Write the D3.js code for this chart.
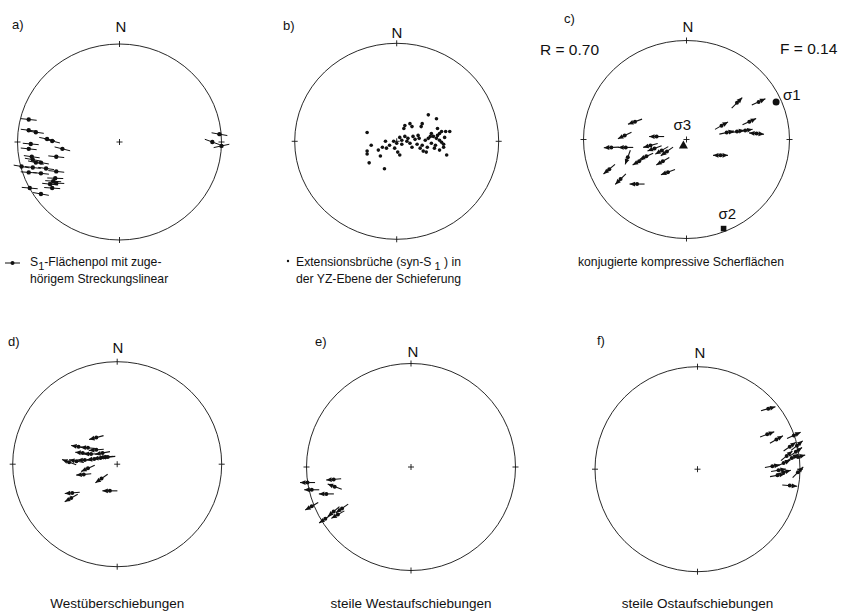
<!DOCTYPE html>
<html><head><meta charset="utf-8">
<script src="https://cdn.jsdelivr.net/npm/d3@7/dist/d3.min.js"></script>
<style>
html,body{margin:0;padding:0;background:#fff;}
svg{display:block;font-family:"Liberation Sans",Arial,Helvetica,sans-serif;}
</style></head><body>
<svg id="chart" width="859" height="614"></svg>
<script>
// Net coordinates: east, north in units of the primitive circle radius.

// a) S1 poles with stretching lineation [east, north, lineation trend°]
const s1Poles = [
  [-0.89, 0.23, 96], [-0.89, 0.12, 97], [-0.82, 0.10, 98], [-0.71, 0.03, 102],
  [-0.66, 0.01, 104], [-0.56, -0.07, 104], [-0.87, -0.02, 95], [-0.89, -0.07, 96],
  [-0.86, -0.15, 98], [-0.85, -0.18, 100], [-0.82, -0.21, 102], [-0.77, -0.21, 100],
  [-0.62, -0.15, 96], [-0.96, -0.25, 100], [-0.85, -0.26, 97], [-0.72, -0.27, 98],
  [-0.62, -0.30, 96], [-0.89, -0.31, 94], [-0.77, -0.32, 96], [-0.63, -0.37, 92],
  [-0.65, -0.40, 94], [-0.68, -0.43, 96], [-0.62, -0.42, 92], [-0.66, -0.47, 94],
  [-0.88, -0.47, 95], [-0.77, -0.53, 100],
  [0.98, 0.08, 100], [0.91, 0.00, 110], [1.00, -0.04, 78]
];

// b) extension fractures (syn-S1) [east, north]
const extensionFractures = [
  [-0.29, 0.09], [-0.25, -0.04], [-0.29, -0.10], [-0.29, -0.13], [-0.27, -0.22],
  [-0.12, -0.28], [-0.18, -0.09], [-0.16, -0.15], [-0.14, -0.06], [-0.11, 0.00],
  [-0.10, -0.07], [-0.03, 0.00], [-0.02, -0.07], [0.01, -0.11], [0.03, -0.14],
  [0.03, 0.04], [0.05, 0.01], [0.08, 0.05], [0.07, 0.13], [0.08, 0.16],
  [0.13, 0.18], [0.15, 0.15], [0.11, 0.03], [0.16, 0.05], [0.21, 0.06],
  [0.24, 0.15], [0.25, 0.18], [0.20, -0.03], [0.23, -0.07], [0.28, 0.01],
  [0.31, 0.03], [0.31, 0.27], [0.39, 0.23], [0.34, 0.08], [0.34, -0.02],
  [0.37, -0.07], [0.40, 0.13], [0.42, 0.08], [0.44, 0.10], [0.48, 0.10],
  [0.52, 0.10], [0.42, 0.01], [0.39, 0.03], [0.38, -0.04], [0.46, -0.03],
  [0.46, -0.06], [0.42, -0.09], [0.29, -0.11], [0.33, 0.05], [0.25, -0.04],
  [0.49, -0.14], [0.15, -0.06], [0.10, 0.00], [-0.07, -0.04], [0.00, -0.02],
  [0.26, -0.10], [0.18, 0.02], [0.22, 0.03], [0.36, 0.05], [0.40, 0.06],
  [0.30, -0.06], [0.44, -0.01], [0.47, 0.04], [0.13, -0.02], [0.05, -0.03]
];

// c) conjugate compressive shear planes [east, north, slip azimuth°, double-headed]
const compressiveShears = [
  [0.49, 0.37, 45, 0], [0.70, 0.38, 65, 0], [0.34, 0.14, 60, 0], [0.61, 0.18, 65, 0],
  [0.39, 0.07, 78, 0], [0.49, 0.08, 80, 0], [0.57, 0.09, 80, 0], [0.68, 0.06, 95, 1],
  [0.33, -0.16, 90, 1],
  [-0.50, 0.18, 250, 0], [-0.60, 0.04, 245, 0], [-0.29, 0.03, 270, 0], [-0.73, -0.08, 268, 0],
  [-0.59, -0.08, 270, 0], [-0.35, -0.06, 255, 0], [-0.31, -0.09, 250, 0], [-0.24, -0.11, 240, 0],
  [-0.19, -0.12, 235, 0], [-0.57, -0.18, 200, 0], [-0.46, -0.22, 240, 0], [-0.39, -0.17, 245, 0],
  [-0.23, -0.22, 240, 0], [-0.75, -0.30, 230, 0], [-0.64, -0.40, 225, 0], [-0.18, -0.33, 250, 0],
  [-0.48, -0.45, 270, 0]
];

// c) principal stress axes [label, east, north, marker]
const stressAxes = [
  ["σ1", 0.87, 0.38, "circle"],
  ["σ2", 0.36, -0.90, "square"],
  ["σ3", -0.03, -0.06, "triangle"]
];
const fitLabels = [["R", "0.70"], ["F", "0.14"]];

// d) west-directed thrusts [east, north, slip azimuth°]
const westThrusts = [
  [-0.20, 0.26, 255], [-0.37, 0.17, 280], [-0.28, 0.16, 275], [-0.20, 0.14, 265],
  [-0.33, 0.11, 275], [-0.25, 0.10, 270], [-0.14, 0.11, 260], [-0.11, 0.07, 265],
  [-0.46, 0.02, 290], [-0.39, 0.03, 280], [-0.31, 0.04, 270], [-0.22, 0.05, 265],
  [-0.16, 0.06, 265], [-0.09, 0.07, 265], [-0.28, -0.04, 245], [-0.32, -0.10, 265],
  [-0.15, -0.14, 235], [-0.43, -0.28, 265], [-0.44, -0.33, 240], [-0.07, -0.26, 270]
];

// e) steep west-directed reverse faults
const steepWestThrusts = [
  [-0.99, -0.15, 270], [-0.74, -0.12, 265], [-0.73, -0.19, 290], [-0.95, -0.22, 270],
  [-0.81, -0.26, 270], [-0.95, -0.38, 240], [-0.74, -0.43, 230], [-0.66, -0.40, 235],
  [-0.82, -0.50, 235], [-0.70, -0.46, 240]
];

// f) steep east-directed reverse faults
const steepEastThrusts = [
  [0.69, 0.59, 75], [0.68, 0.34, 70], [0.77, 0.29, 60], [0.94, 0.33, 65],
  [0.97, 0.23, 50], [0.90, 0.22, 55], [0.96, 0.17, 55], [0.87, 0.13, 50],
  [0.98, 0.12, 75], [0.92, 0.11, 60], [0.84, 0.06, 65], [0.73, 0.03, 80],
  [0.79, -0.01, 80], [0.98, -0.03, 45], [0.78, -0.06, 80], [0.84, -0.03, 75],
  [0.90, -0.16, 95]
];

const panelLetters = ["a)", "b)", "c)", "d)", "e)", "f)"];
const bottomCaptions = ["Westüberschiebungen", "steile Westaufschiebungen", "steile Ostaufschiebungen"];

const svg = d3.select("#chart");
const ink = "#111";

// primitive circle geometry of the six nets
const panels = [
  {cx: 119.5, cy: 142.0, rx: 102, ry: 98,  lx: 12,  ly: 29,  nx: 121, ny: 32},
  {cx: 396.7, cy: 141.3, rx: 102, ry: 98,  lx: 283, ly: 30,  nx: 397, ny: 38},
  {cx: 686.5, cy: 139.5, rx: 103, ry: 99,  lx: 564, ly: 23,  nx: 688, ny: 32},
  {cx: 117.2, cy: 464.2, rx: 104.5, ry: 102.5, lx: 8,  ly: 346, nx: 118, ny: 353},
  {cx: 411.0, cy: 467.0, rx: 104.5, ry: 103.5, lx: 315, ly: 346, nx: 413, ny: 356.5},
  {cx: 697.5, cy: 469.2, rx: 102.5, ry: 102.5, lx: 597, ly: 345, nx: 700, ny: 358}
];

function drawNet(p, i) {
  const x = d3.scaleLinear().domain([-1, 1]).range([p.cx - p.rx, p.cx + p.rx]);
  const y = d3.scaleLinear().domain([-1, 1]).range([p.cy + p.ry, p.cy - p.ry]);
  const g = svg.append("g");
  g.append("ellipse")
    .attr("cx", x(0)).attr("cy", y(0))
    .attr("rx", x(1) - x(0)).attr("ry", y(0) - y(1))
    .attr("fill", "none").attr("stroke", ink).attr("stroke-width", 0.9);
  // N, E, S, W ticks
  const t = 3;
  [[x(0), y(1) - t, x(0), y(1) + t], [x(0), y(-1) - t, x(0), y(-1) + t],
   [x(1) - t, y(0), x(1) + t, y(0)], [x(-1) - t, y(0), x(-1) + t, y(0)]].forEach(c => {
    g.append("line").attr("x1", c[0]).attr("y1", c[1]).attr("x2", c[2]).attr("y2", c[3])
      .attr("stroke", ink).attr("stroke-width", 0.9);
  });
  // centre cross
  g.append("path")
    .attr("d", `M${x(0) - 3},${y(0)}H${x(0) + 3}M${x(0)},${y(0) - 3}V${y(0) + 3}`)
    .attr("stroke", ink).attr("stroke-width", 0.9);
  g.append("text").attr("x", p.nx).attr("y", p.ny).attr("text-anchor", "middle")
    .attr("font-size", 15).attr("fill", ink).text("N");
  g.append("text").attr("x", p.lx).attr("y", p.ly)
    .attr("font-size", 13).attr("fill", ink).text(panelLetters[i]);
  return {g, x, y};
}

function unit(az) {
  const r = az * Math.PI / 180;
  return [Math.sin(r), -Math.cos(r)];
}

function head(g, tx, ty, v) {
  const L = 5.5, W = 2.4;
  const bx = tx - v[0] * L, by = ty - v[1] * L;
  g.append("path")
    .attr("d", `M${tx},${ty}L${bx + v[1] * W},${by - v[0] * W}L${bx - v[1] * W},${by + v[0] * W}Z`)
    .attr("fill", ink);
}

function lineation(net, d, len) {
  const px = net.x(d[0]), py = net.y(d[1]);
  const v = unit(d[2]);
  net.g.append("line")
    .attr("x1", px - v[0] * len / 2).attr("y1", py - v[1] * len / 2)
    .attr("x2", px + v[0] * len / 2).attr("y2", py + v[1] * len / 2)
    .attr("stroke", ink).attr("stroke-width", 1);
  net.g.append("circle").attr("cx", px).attr("cy", py).attr("r", 2.2).attr("fill", ink);
}

function slipArrow(net, d, len) {
  const px = net.x(d[0]), py = net.y(d[1]);
  const v = unit(d[2]);
  const x1 = px - v[0] * len / 2, y1 = py - v[1] * len / 2;
  const x2 = px + v[0] * len / 2, y2 = py + v[1] * len / 2;
  net.g.append("line").attr("x1", x1).attr("y1", y1).attr("x2", x2).attr("y2", y2)
    .attr("stroke", ink).attr("stroke-width", 1.1);
  head(net.g, x2, y2, v);
  if (d[3]) head(net.g, x1, y1, [-v[0], -v[1]]);
  net.g.append("circle").attr("cx", px).attr("cy", py).attr("r", 2).attr("fill", ink);
}

const nets = panels.map(drawNet);

// a)
s1Poles.forEach(d => lineation(nets[0], d, 16));

// b)
extensionFractures.forEach(d => {
  nets[1].g.append("circle").attr("cx", nets[1].x(d[0])).attr("cy", nets[1].y(d[1]))
    .attr("r", 1.8).attr("fill", ink);
});

// c)
compressiveShears.forEach(d => slipArrow(nets[2], d, 15));
const stressLabelOffset = {"σ1": [7, -2], "σ2": [-5, -10], "σ3": [-10, -15]};
stressAxes.forEach(d => {
  const px = nets[2].x(d[1]), py = nets[2].y(d[2]);
  const g = nets[2].g;
  if (d[3] === "circle") g.append("circle").attr("cx", px).attr("cy", py).attr("r", 3.5).attr("fill", ink);
  if (d[3] === "square") g.append("rect").attr("x", px - 2.8).attr("y", py - 2.8)
    .attr("width", 5.6).attr("height", 5.6).attr("fill", ink);
  if (d[3] === "triangle") g.append("path")
    .attr("d", `M${px},${py - 5}L${px + 4.5},${py + 3}L${px - 4.5},${py + 3}Z`).attr("fill", ink);
  const o = stressLabelOffset[d[0]];
  g.append("text").attr("x", px + o[0]).attr("y", py + o[1])
    .attr("font-size", 15).attr("fill", ink).text(d[0]);
});
svg.append("text").attr("x", 540).attr("y", 55).attr("font-size", 15.5).attr("fill", ink)
  .text(`${fitLabels[0][0]} = ${fitLabels[0][1]}`);
svg.append("text").attr("x", 780).attr("y", 54).attr("font-size", 15.5).attr("fill", ink)
  .text(`${fitLabels[1][0]} = ${fitLabels[1][1]}`);

// d), e), f)
westThrusts.forEach(d => slipArrow(nets[3], d, 15));
steepWestThrusts.forEach(d => slipArrow(nets[4], d, 15));
steepEastThrusts.forEach(d => slipArrow(nets[5], d, 15));

// captions of the upper row
const cap = svg.append("g").attr("font-size", 12.2).attr("fill", ink);
cap.append("line").attr("x1", 5).attr("y1", 263).attr("x2", 20).attr("y2", 263)
  .attr("stroke", ink).attr("stroke-width", 1);
cap.append("circle").attr("cx", 12.5).attr("cy", 263).attr("r", 2).attr("fill", ink);
const t1 = cap.append("text").attr("x", 30).attr("y", 266);
t1.append("tspan").text("S");
t1.append("tspan").attr("dy", 4).attr("font-size", 11).text("1");
t1.append("tspan").attr("dy", -4).text("-Flächenpol mit zuge-");
cap.append("text").attr("x", 30).attr("y", 283).text("hörigem Streckungslinear");

cap.append("circle").attr("cx", 288).attr("cy", 261).attr("r", 1.2).attr("fill", ink);
const t2 = cap.append("text").attr("x", 296).attr("y", 266);
t2.append("tspan").text("Extensionsbrüche  (syn-S");
t2.append("tspan").attr("dy", 4).attr("font-size", 11).text(" 1");
t2.append("tspan").attr("dy", -4).text(" ) in");
cap.append("text").attr("x", 296).attr("y", 283).text("der YZ-Ebene der Schieferung");

cap.append("text").attr("x", 578).attr("y", 266).text("konjugierte kompressive Scherflächen");

// captions of the lower row
[3, 4, 5].forEach((k, i) => {
  svg.append("text").attr("x", panels[k].cx).attr("y", 608)
    .attr("text-anchor", "middle").attr("font-size", 13.5).attr("fill", ink)
    .text(bottomCaptions[i]);
});
</script>
</body></html>
